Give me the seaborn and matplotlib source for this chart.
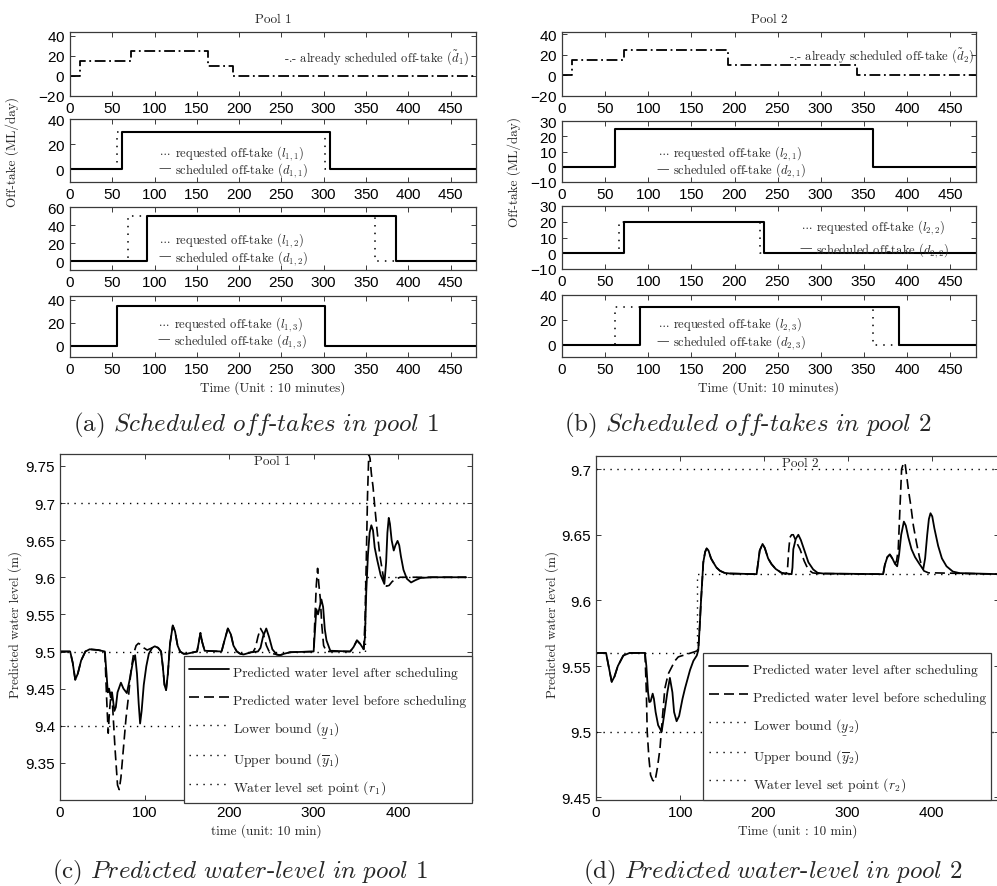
import matplotlib
matplotlib.use("Agg")
import matplotlib.pyplot as plt
import seaborn as sns

# ---------------- data (time in units of 10 minutes) ----------------
# already scheduled off-takes (step change points)
t_pre1 = [0, 12, 72, 163, 193, 480]
v_pre1 = [0, 15, 25, 10, 0, 0]
t_pre2 = [0, 12, 72, 192, 342, 480]
v_pre2 = [0, 15, 25, 10, 0, 0]

# pool 1: requested / scheduled off-takes
t_req11 = [0, 56, 301, 480]
v_req11 = [0, 30, 0, 0]
t_sch11 = [0, 61, 307, 480]
v_sch11 = [0, 30, 0, 0]
t_req12 = [0, 68, 361, 480]
v_req12 = [0, 50, 0, 0]
t_sch12 = [0, 91, 385, 480]
v_sch12 = [0, 50, 0, 0]
t_req13 = [0, 55, 301, 480]
v_req13 = [0, 35, 0, 0]
t_sch13 = [0, 55, 301, 480]
v_sch13 = [0, 35, 0, 0]

# pool 2: requested / scheduled off-takes
t_req21 = [0, 61, 361, 480]
v_req21 = [0, 25, 0, 0]
t_sch21 = [0, 61, 361, 480]
v_sch21 = [0, 25, 0, 0]
t_req22 = [0, 66, 229, 480]
v_req22 = [0, 20, 0, 0]
t_sch22 = [0, 72, 234, 480]
v_sch22 = [0, 20, 0, 0]
t_req23 = [0, 61, 361, 480]
v_req23 = [0, 30, 0, 0]
t_sch23 = [0, 91, 391, 480]
v_sch23 = [0, 30, 0, 0]

# pool 1 predicted water level
t_after1 = [0, 12, 15, 18, 21, 25, 30, 35, 45, 53, 55, 56.5, 58, 60, 61.5, 64.3, 66,
            68, 72, 75, 79, 82, 86, 88.8, 91, 93, 94.7, 96.5, 99, 102, 105, 109, 112,
            116, 119.5, 121.5, 123.5, 125.4, 127.5, 130, 133.3, 136, 139, 142, 146, 150,
            162, 164, 166, 168, 171, 191, 194, 198.4, 202, 205, 209, 213, 217, 226, 234,
            237, 240, 243.8, 247, 251, 256, 260, 265, 272, 299.8, 301.5, 303, 305, 307,
            309, 311, 313, 315, 319.5, 343, 347, 351, 355, 359, 360.5, 362, 364, 366,
            368, 370, 372, 375, 379, 383.4, 385.5, 387, 388.6, 390, 392, 394.5, 396.5,
            399, 401, 403, 406, 410, 415, 420, 426, 440, 480]
y_after1 = [9.5, 9.5, 9.485, 9.462, 9.47, 9.488, 9.5, 9.503, 9.502, 9.5, 9.47, 9.445, 9.45,
            9.438, 9.445, 9.42, 9.425, 9.445, 9.458, 9.45, 9.444, 9.46, 9.485, 9.495, 9.47,
            9.43, 9.403, 9.42, 9.455, 9.48, 9.497, 9.505, 9.507, 9.505, 9.5, 9.48, 9.455,
            9.448, 9.47, 9.51, 9.535, 9.527, 9.508, 9.5, 9.497, 9.497, 9.5, 9.512, 9.525,
            9.513, 9.501, 9.5, 9.513, 9.531, 9.523, 9.508, 9.5, 9.497, 9.496, 9.499, 9.5,
            9.505, 9.52, 9.531, 9.52, 9.503, 9.496, 9.495, 9.497, 9.499, 9.5, 9.53, 9.557,
            9.55, 9.56, 9.57, 9.56, 9.53, 9.515, 9.501, 9.5, 9.506, 9.515, 9.51, 9.503,
            9.52, 9.58, 9.63, 9.66, 9.67, 9.663, 9.64, 9.623, 9.603, 9.591, 9.62, 9.66,
            9.68, 9.672, 9.65, 9.636, 9.643, 9.649, 9.643, 9.628, 9.61, 9.598, 9.593,
            9.596, 9.599, 9.6, 9.6]
t_before1 = [0, 12, 15, 18, 21, 25, 30, 35, 45, 53, 55, 57, 58.5, 60.5, 62, 65, 68, 70,
             72, 75, 78, 81, 84, 87, 90, 92.7, 96, 99, 103, 109, 112, 116, 119.5, 121.5,
             123.5, 125.4, 127.5, 130, 133.3, 136, 139, 142, 146, 150, 162, 164, 166, 168,
             171, 191, 194, 198.4, 202, 205, 209, 213, 217, 226, 228, 231, 234, 237, 240,
             244, 248, 256, 260, 265, 272, 299.8, 301.5, 303, 304.5, 306, 307.7, 309.5,
             311.6, 315, 319.5, 343, 347, 351, 355, 359, 360.5, 362, 363.5, 365, 366.5,
             368, 370, 372.5, 374.8, 378, 382, 383.4, 386, 389, 392.5, 396, 402, 480]
y_before1 = [9.5, 9.5, 9.485, 9.462, 9.47, 9.488, 9.5, 9.503, 9.502, 9.5, 9.44, 9.39, 9.42,
             9.445, 9.43, 9.37, 9.32, 9.314, 9.33, 9.37, 9.41, 9.44, 9.475, 9.497, 9.508,
             9.511, 9.509, 9.505, 9.502, 9.505, 9.507, 9.505, 9.5, 9.48, 9.455, 9.448,
             9.47, 9.51, 9.535, 9.527, 9.508, 9.5, 9.497, 9.497, 9.5, 9.512, 9.525, 9.513,
             9.501, 9.5, 9.513, 9.531, 9.523, 9.508, 9.5, 9.497, 9.496, 9.499, 9.499,
             9.505, 9.52, 9.531, 9.525, 9.508, 9.498, 9.496, 9.495, 9.497, 9.499, 9.5,
             9.55, 9.59, 9.612, 9.59, 9.571, 9.535, 9.508, 9.5, 9.5, 9.5, 9.506, 9.515,
             9.51, 9.503, 9.54, 9.62, 9.71, 9.766, 9.76, 9.74, 9.722, 9.69, 9.663, 9.63,
             9.602, 9.591, 9.588, 9.589, 9.594, 9.597, 9.6, 9.6]

# pool 2 predicted water level
t_after2 = [0, 12, 15, 18.7, 22, 26, 32.5, 40, 58.3, 60, 62, 63.5, 65, 67.5, 69, 71, 74,
            78.2, 81, 85, 88, 91, 93, 96, 99, 103, 106, 112, 116, 120, 121.8, 123.5, 125,
            127.8, 130, 131.8, 134, 137, 139.7, 143.5, 147.6, 153, 159.5, 191.3, 195,
            198.4, 201, 205, 209, 214, 221, 233, 234, 235, 238, 241, 244, 249, 253, 258.7,
            264, 270.6, 342, 344, 347, 350, 353, 356, 358.7, 361, 363.5, 366.7, 369, 372,
            375.8, 380, 385, 389.7, 392, 394.5, 396.5, 398.4, 400.5, 403, 407.5, 412,
            417.5, 425, 433, 480]
y_after2 = [9.56, 9.56, 9.55, 9.538, 9.542, 9.55, 9.558, 9.56, 9.56, 9.55, 9.53, 9.5226,
            9.523, 9.529, 9.525, 9.515, 9.505, 9.5, 9.512, 9.53, 9.541, 9.53, 9.515, 9.508,
            9.512, 9.525, 9.533, 9.547, 9.554, 9.558, 9.562, 9.58, 9.5986, 9.629, 9.637,
            9.6396, 9.638, 9.632, 9.629, 9.625, 9.6226, 9.621, 9.6205, 9.62, 9.638, 9.643,
            9.64, 9.632, 9.6277, 9.624, 9.621, 9.62, 9.625, 9.639, 9.647, 9.65, 9.646,
            9.6366, 9.629, 9.6236, 9.621, 9.6205, 9.62, 9.627, 9.633, 9.635, 9.632, 9.628,
            9.626, 9.635, 9.65, 9.66, 9.657, 9.648, 9.639, 9.633, 9.628, 9.6236, 9.632,
            9.65, 9.662, 9.6664, 9.664, 9.655, 9.6416, 9.632, 9.626, 9.622, 9.6208, 9.62]
t_before2 = [0, 12, 15, 18.7, 22, 26, 32.5, 40, 58.3, 60, 61, 63, 65, 67.5, 70.2, 73, 76.2,
             79, 82, 86, 90, 94, 98, 108, 118, 121.8, 123.5, 125, 127.8, 130, 131.8, 134,
             137, 139.7, 143.5, 147.6, 153, 159.5, 191.3, 195, 198.4, 201, 205, 209, 214,
             221, 226, 228, 229.5, 231, 233, 235, 239, 243, 248, 252.7, 258, 264, 342,
             344, 347, 350, 353, 356, 358, 360, 362, 364, 366, 368, 370, 372, 375, 378,
             382, 385.7, 388, 390.5, 396, 401.6, 480]
y_before2 = [9.56, 9.56, 9.55, 9.538, 9.542, 9.55, 9.558, 9.56, 9.56, 9.53, 9.5, 9.48,
             9.467, 9.463, 9.462, 9.472, 9.487, 9.51, 9.533, 9.544, 9.549, 9.554, 9.557,
             9.559, 9.561, 9.562, 9.58, 9.5986, 9.629, 9.637, 9.6396, 9.638, 9.632, 9.629,
             9.625, 9.6226, 9.621, 9.6205, 9.62, 9.638, 9.643, 9.64, 9.632, 9.6277, 9.624,
             9.621, 9.62, 9.623, 9.638, 9.648, 9.65, 9.65, 9.644, 9.639, 9.63, 9.6236,
             9.621, 9.6205, 9.62, 9.627, 9.633, 9.635, 9.632, 9.628, 9.63, 9.639, 9.67,
             9.70, 9.704, 9.705, 9.695, 9.6847, 9.672, 9.657, 9.643, 9.6315, 9.626,
             9.6225, 9.621, 9.621, 9.62]

# bounds and set points
t_bound = [0, 480]
lower1 = [9.4, 9.4]
upper1 = [9.7, 9.7]
t_r1 = [0, 360, 480]
r1 = [9.5, 9.6, 9.6]
lower2 = [9.5, 9.5]
upper2 = [9.7, 9.7]
t_r2 = [0, 120, 480]
r2 = [9.56, 9.62, 9.62]

# ---------------- style ----------------
sns.set_theme(style="ticks")
plt.rcParams["font.family"] = ["cmr10", "DejaVu Serif"]
plt.rcParams["mathtext.fontset"] = "cm"
plt.rcParams["axes.formatter.use_mathtext"] = True

W, H = 997, 887
DOT = (0, (1, 4))
DASH = (0, (6, 3))
DASHDOT = (0, (6, 2, 1, 2))
EDGE = "#3a3a3a"
LAB = 9.5      # axis labels / titles
NOTE = 9.0     # in-panel notes

fig = plt.figure(figsize=(W / 100, H / 100), dpi=100)


def add_axes(left, top, right, bottom):
    ax = fig.add_axes([left / W, 1 - bottom / H, (right - left) / W, (bottom - top) / H])
    for s in ax.spines.values():
        s.set_color(EDGE)
        s.set_linewidth(0.9)
    ax.tick_params(direction="in", top=True, right=True, length=3.5, width=0.7,
                   color=EDGE, labelsize=11, labelfontfamily="Liberation Sans",
                   labelcolor="black", pad=3.5)
    return ax


def line(ax, t, v, ls="-", lw=1.3, step=False, label=None):
    kw = dict(drawstyle="steps-post") if step else {}
    sns.lineplot(x=t, y=v, ax=ax, estimator=None, sort=False, color="black",
                 linestyle=ls, linewidth=lw, label=label, legend=False, **kw)
    return ax.lines[-1]


def pair_text(ax, x, y1, y2, req, sch):
    ax.annotate("...", (x, y1), xytext=(-3, 0), textcoords="offset points",
                ha="right", va="center_baseline", fontsize=NOTE)
    ax.annotate(req, (x, y1), ha="left", va="center_baseline", fontsize=NOTE)
    ax.annotate("\u2014", (x, y2), xytext=(-3, 0), textcoords="offset points",
                ha="right", va="center_baseline", fontsize=NOTE)
    ax.annotate(sch, (x, y2), ha="left", va="center_baseline", fontsize=NOTE)


# ---------------- (a) and (b): off-takes ----------------
boxes_a = [(70, 33, 476, 97), (70, 120, 476, 183), (70, 208, 476, 271), (70, 297, 476, 358)]
boxes_b = [(562, 33, 976, 97), (562, 122, 976, 183), (562, 207, 976, 270), (562, 296, 976, 358)]
ylims_a = [(-20, 44), (-10, 40), (-10, 60), (-10, 43.5)]
ylims_b = [(-20, 42), (-10, 30), (-10, 30), (-10, 40)]
yticks_a = [[-20, 0, 20, 40], [0, 20, 40], [0, 20, 40, 60], [0, 20, 40]]
yticks_b = [[-20, 0, 20, 40], [-10, 0, 10, 20, 30], [-10, 0, 10, 20, 30], [0, 20, 40]]

pools = [
    dict(boxes=boxes_a, ylims=ylims_a, yticks=yticks_a, pre=(t_pre1, v_pre1), p=1,
         req=[(t_req11, v_req11), (t_req12, v_req12), (t_req13, v_req13)],
         sch=[(t_sch11, v_sch11), (t_sch12, v_sch12), (t_sch13, v_sch13)],
         txt=[(124, 15.8, 2.0), (124, 26.5, 7.0), (123, 21.8, 7.0)], pre_txt=(472, 22),
         xlabel="Time (Unit : 10 minutes)"),
    dict(boxes=boxes_b, ylims=ylims_b, yticks=yticks_b, pre=(t_pre2, v_pre2), p=2,
         req=[(t_req21, v_req21), (t_req22, v_req22), (t_req23, v_req23)],
         sch=[(t_sch21, v_sch21), (t_sch22, v_sch22), (t_sch23, v_sch23)],
         txt=[(129, 11.3, -0.3), (295, 19.0, 4.0), (129, 19.0, 4.3)], pre_txt=(478, 22.5),
         xlabel="Time (Unit: 10 minutes)"),
]

for pool in pools:
    p = pool["p"]
    axes = [add_axes(*b) for b in pool["boxes"]]
    for ax, yl, yt in zip(axes, pool["ylims"], pool["yticks"]):
        ax.set_xlim(0, 480)
        ax.set_ylim(*yl)
        ax.set_xticks(range(0, 451, 50))
        ax.set_yticks(yt)
    line(axes[0], *pool["pre"], ls=DASHDOT, lw=1.3, step=True)
    axes[0].text(pool["pre_txt"][0], pool["pre_txt"][1],
                 r"-.- already scheduled off-take ($\tilde{d}_%d$)" % p,
                 ha="right", va="center_baseline", fontsize=NOTE)
    axes[0].set_title("Pool %d" % p, fontsize=LAB, pad=7)
    for k in range(3):
        ax = axes[k + 1]
        line(ax, *pool["req"][k], ls=DOT, lw=1.1, step=True)
        line(ax, *pool["sch"][k], ls="-", lw=1.5, step=True)
        x, y1, y2 = pool["txt"][k]
        pair_text(ax, x, y1, y2,
                  r"requested off-take ($l_{%d,%d}$)" % (p, k + 1),
                  r"scheduled off-take ($d_{%d,%d}$)" % (p, k + 1))
    axes[3].set_xlabel(pool["xlabel"], fontsize=LAB, labelpad=3)

fig.text(12 / W, 1 - 152 / H, "Off-take (ML/day)", rotation=90, ha="center", va="center", fontsize=LAB)
fig.text(514 / W, 1 - 172 / H, "Off-take (ML/day)", rotation=90, ha="center", va="center", fontsize=LAB)

# ---------------- (c) and (d): water levels ----------------
ax_c = add_axes(60, 455, 472, 801)
ax_d = add_axes(596, 457, 999, 801)

levels = [
    dict(ax=ax_c, p=1, after=(t_after1, y_after1), before=(t_before1, y_before1),
         lower=lower1, upper=upper1, r=(t_r1, r1), xlim=(0, 487), ylim=(9.30, 9.766),
         yticks=[9.35, 9.4, 9.45, 9.5, 9.55, 9.6, 9.65, 9.7, 9.75], title_x=0.515,
         xlabel="time (unit: 10 min)", leg=dict(loc="lower right", bbox_to_anchor=(1.0, -0.009))),
    dict(ax=ax_d, p=2, after=(t_after2, y_after2), before=(t_before2, y_before2),
         lower=lower2, upper=upper2, r=(t_r2, r2), xlim=(0, 480), ylim=(9.448, 9.71),
         yticks=[9.45, 9.5, 9.55, 9.6, 9.65, 9.7], title_x=0.506,
         xlabel="Time (unit : 10 min)", leg=dict(loc="lower left", bbox_to_anchor=(0.266, 0.0))),
]

for lv in levels:
    ax, p = lv["ax"], lv["p"]
    h = [
        line(ax, *lv["after"], ls="-", lw=1.3),
        line(ax, *lv["before"], ls=DASH, lw=1.2),
        line(ax, t_bound, lv["lower"], ls=DOT, lw=1.0),
        line(ax, t_bound, lv["upper"], ls=DOT, lw=1.0),
        line(ax, *lv["r"], ls=DOT, lw=1.0, step=True),
    ]
    labels = [
        "Predicted water level after scheduling",
        "Predicted water level before scheduling",
        r"Lower bound ($\underset{\_}{y}_%d$)" % p,
        r"Upper bound ($\overline{y}_%d$)" % p,
        r"Water level set point ($r_%d$)" % p,
    ]
    ax.set_xlim(*lv["xlim"])
    ax.set_ylim(*lv["ylim"])
    ax.set_xticks([0, 100, 200, 300, 400])
    ax.set_yticks(lv["yticks"])
    ax.set_yticklabels(["%g" % v for v in lv["yticks"]])
    ax.text(lv["title_x"], 0.997, "Pool %d" % p, transform=ax.transAxes,
            ha="center", va="top", fontsize=LAB)
    ax.set_xlabel(lv["xlabel"], fontsize=LAB, labelpad=3)
    # equal row pitch: handle boxes taller than every label
    leg = ax.legend(handles=h, labels=labels, borderaxespad=0, frameon=True,
                    fancybox=False, edgecolor=EDGE, framealpha=1, fontsize=9.8,
                    handlelength=2.9, handleheight=2.08, handletextpad=0.35,
                    labelspacing=0.48, borderpad=0.4, **lv["leg"])
    leg.get_frame().set_linewidth(0.9)

fig.text(15 / W, 1 - 625 / H, "Predicted water level (m)", rotation=90, ha="center", va="center", fontsize=LAB)
fig.text(552 / W, 1 - 625 / H, "Predicted water level (m)", rotation=90, ha="center", va="center", fontsize=LAB)

# ---------------- captions ----------------
cap = 18
fig.text(256 / W, 1 - 425 / H, r"(a) $\mathit{Scheduled\ off}$-$\mathit{takes\ in\ pool}$ 1",
         ha="center", va="center", fontsize=cap)
fig.text(748 / W, 1 - 425 / H, r"(b) $\mathit{Scheduled\ off}$-$\mathit{takes\ in\ pool}$ 2",
         ha="center", va="center", fontsize=cap)
fig.text(240 / W, 1 - 872 / H, r"(c) $\mathit{Predicted\ water}$-$\mathit{level\ in\ pool}$ 1",
         ha="center", va="center", fontsize=cap)
fig.text(773 / W, 1 - 872 / H, r"(d) $\mathit{Predicted\ water}$-$\mathit{level\ in\ pool}$ 2",
         ha="center", va="center", fontsize=cap)

fig.savefig("out.png", dpi=100)
